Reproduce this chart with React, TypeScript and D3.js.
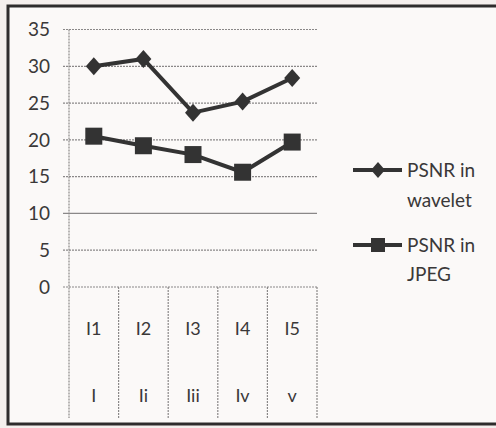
import React from "react";
import * as d3 from "d3";

const categories = ["I1", "I2", "I3", "I4", "I5"];
const subLabels = ["I", "Ii", "Iii", "Iv", "v"];
const wavelet = [30, 31, 23.7, 25.2, 28.4];
const jpeg = [20.5, 19.2, 18, 15.6, 19.7];
const yTicks = [0, 5, 10, 15, 20, 25, 30, 35];
const seriesNames = ["PSNR in wavelet", "PSNR in JPEG"];

export default function App() {
  const W = 496, H = 428;
  const left = 69, right = 317, top = 29.5, bottom = 287;
  const x = d3.scaleBand<string>().domain(categories).range([left, right]).padding(0);
  const y = d3.scaleLinear().domain([0, 35]).range([bottom, top]);
  const cx = (c: string) => (x(c) as number) + x.bandwidth() / 2;
  const line = d3.line<number>().x((_, i) => cx(categories[i])).y((d) => y(d));
  const font = "Lato, 'Open Sans', sans-serif";
  const ink = "#3a3838";
  return (
    <div style={{ position: "fixed", left: 0, top: 0 }}>
      <svg width={W} height={H} style={{ display: "block" }}>
        <rect x={0} y={0} width={W} height={H} fill="#f4efed" />
        <rect x={8} y={6} width={W + 10} height={418} fill="#fbf9f8" stroke="#2e2c2c" strokeWidth={3} />
        {yTicks.map((t) => (
          <g key={t}>
            <line x1={left - 6} x2={right} y1={y(t)} y2={y(t)} stroke="#8a8888" strokeWidth={1.2} strokeDasharray={t === 10 ? undefined : "2 1"} />
            <text x={50} y={y(t)} dy="0.35em" textAnchor="end" fontFamily={font} fontSize={19} fill={ink}>{t}</text>
          </g>
        ))}
        <line x1={left} x2={left} y1={top} y2={418} stroke="#8a8888" strokeWidth={1.2} strokeDasharray="2 1" />
        {categories.map((c, i) => (
          <g key={c}>
            <line x1={(x(c) as number) + x.bandwidth()} x2={(x(c) as number) + x.bandwidth()} y1={bottom} y2={418} stroke="#8a8888" strokeWidth={1.2} strokeDasharray="2 1" />
            <text x={cx(c)} y={329} dy="0.35em" textAnchor="middle" fontFamily={font} fontSize={18} fill={ink}>{c}</text>
            <text x={cx(c)} y={396} dy="0.35em" textAnchor="middle" fontFamily={font} fontSize={18} fill={ink}>{subLabels[i]}</text>
          </g>
        ))}
        <path d={line(wavelet) as string} fill="none" stroke="#333" strokeWidth={4} />
        <path d={line(jpeg) as string} fill="none" stroke="#333" strokeWidth={4} />
        {wavelet.map((v, i) => (
          <path key={"w" + i} d={`M${cx(categories[i])},${y(v) - 9}l8,9l-8,9l-8,-9z`} fill="#333" />
        ))}
        {jpeg.map((v, i) => (
          <rect key={"j" + i} x={cx(categories[i]) - 8.5} y={y(v) - 8.5} width={17} height={17} fill="#333" />
        ))}
        <g>
          <line x1={353} x2={402} y1={170} y2={170} stroke="#333" strokeWidth={4} />
          <path d={`M378,162l7,8l-7,8l-7,-8z`} fill="#333" />
          <text x={407} y={170} dy="0.35em" fontFamily={font} fontSize={19} fill={ink}>{seriesNames[0].slice(0, 7)}</text>
          <text x={407} y={200} dy="0.35em" fontFamily={font} fontSize={19} fill={ink}>{seriesNames[0].slice(8)}</text>
          <line x1={353} x2={402} y1={245} y2={245} stroke="#333" strokeWidth={4} />
          <rect x={371} y={238} width={14} height={14} fill="#333" />
          <text x={407} y={245} dy="0.35em" fontFamily={font} fontSize={19} fill={ink}>{seriesNames[1].slice(0, 7)}</text>
          <text x={407} y={274} dy="0.35em" fontFamily={font} fontSize={19} fill={ink}>{seriesNames[1].slice(8)}</text>
        </g>
      </svg>
    </div>
  );
}
